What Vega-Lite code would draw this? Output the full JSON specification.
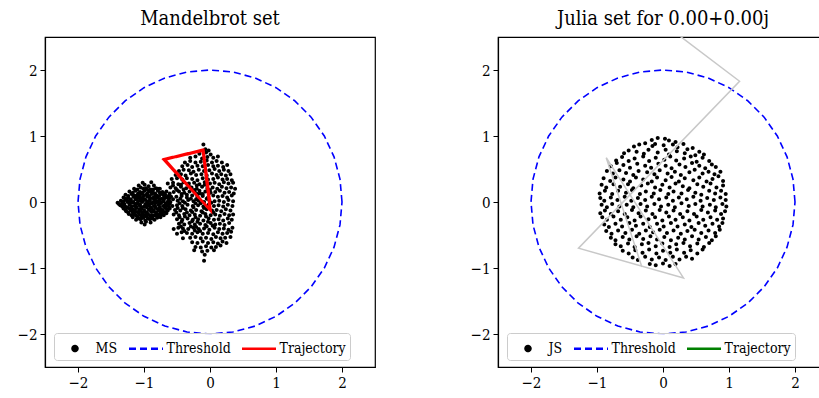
{
  "$schema": "https://vega.github.io/schema/vega-lite/v6.json",
  "padding": {"left": 5, "top": 8, "right": 0, "bottom": 0},
  "background": "white",
  "config": {
    "font": "DejaVu Serif Condensed, DejaVu Serif",
    "view": {"stroke": "black", "strokeWidth": 1.2},
    "axis": {"grid": false, "domainColor": "black", "domainWidth": 1.2, "tickColor": "black", "tickWidth": 1, "labelColor": "black", "labelFontSize": 15, "labelFont": "DejaVu Serif Condensed, DejaVu Serif", "tickSize": 5, "labelPadding": 3},
    "axisY": {"minExtent": 39, "maxExtent": 39},
    "title": {"fontSize": 20, "font": "DejaVu Serif Condensed, DejaVu Serif", "fontWeight": "normal", "color": "black", "offset": 8},
    "legend": {"orient": "none", "legendX": 9, "legendY": 296, "direction": "horizontal", "labelFont": "DejaVu Serif Condensed, DejaVu Serif", "labelFontSize": 14, "labelColor": "black", "symbolSize": 400, "symbolStrokeWidth": 2.5, "symbolOffset": 5.5, "labelOffset": 9, "columnPadding": 6, "padding": 4, "fillColor": "rgba(255,255,255,0.8)", "strokeColor": "#cccccc", "cornerRadius": 3},
    "concat": {"spacing": 82}
  },
  "datasets": {
    "ms": [
      {"x":-1.02,"y":0.29},{"x":-0.89,"y":0.30},
      {"x":-1.08,"y":0.25},{"x":-0.99,"y":0.26},{"x":-0.93,"y":0.24},{"x":-0.85,"y":0.25},
      {"x":-1.15,"y":0.20},{"x":-1.05,"y":0.22},{"x":-0.97,"y":0.21},{"x":-0.90,"y":0.19},{"x":-0.82,"y":0.21},{"x":-0.76,"y":0.20},
      {"x":-1.22,"y":0.16},{"x":-1.13,"y":0.17},{"x":-1.06,"y":0.15},{"x":-0.99,"y":0.17},{"x":-0.92,"y":0.16},{"x":-0.86,"y":0.14},{"x":-0.79,"y":0.17},{"x":-0.72,"y":0.15},{"x":-0.66,"y":0.16},
      {"x":-1.28,"y":0.11},{"x":-1.19,"y":0.12},{"x":-1.11,"y":0.10},{"x":-1.04,"y":0.12},{"x":-0.96,"y":0.11},{"x":-0.88,"y":0.12},{"x":-0.81,"y":0.10},{"x":-0.74,"y":0.12},{"x":-0.68,"y":0.11},{"x":-0.61,"y":0.13},
      {"x":-1.31,"y":0.07},{"x":-1.24,"y":0.06},{"x":-1.16,"y":0.08},{"x":-1.09,"y":0.06},{"x":-1.02,"y":0.07},{"x":-0.95,"y":0.08},{"x":-0.87,"y":0.06},{"x":-0.80,"y":0.07},{"x":-0.73,"y":0.05},{"x":-0.66,"y":0.07},{"x":-0.59,"y":0.08},
      {"x":-1.35,"y":0.02},{"x":-1.27,"y":0.03},{"x":-1.20,"y":0.02},{"x":-1.13,"y":0.04},{"x":-1.06,"y":0.02},{"x":-0.98,"y":0.03},{"x":-0.91,"y":0.02},{"x":-0.84,"y":0.04},{"x":-0.77,"y":0.02},{"x":-0.70,"y":0.03},{"x":-0.63,"y":0.02},{"x":-0.56,"y":0.04},
      {"x":-1.40,"y":-0.01},{"x":-1.33,"y":-0.02},{"x":-1.25,"y":0.00},{"x":-1.17,"y":-0.01},{"x":-1.10,"y":-0.02},{"x":-1.03,"y":0.00},{"x":-0.95,"y":-0.01},{"x":-0.88,"y":-0.02},{"x":-0.81,"y":0.00},{"x":-0.74,"y":-0.01},{"x":-0.67,"y":-0.02},{"x":-0.60,"y":0.00},
      {"x":-1.36,"y":-0.05},{"x":-1.29,"y":-0.06},{"x":-1.22,"y":-0.04},{"x":-1.14,"y":-0.06},{"x":-1.07,"y":-0.05},{"x":-1.00,"y":-0.07},{"x":-0.93,"y":-0.05},{"x":-0.85,"y":-0.06},{"x":-0.78,"y":-0.04},{"x":-0.71,"y":-0.06},{"x":-0.64,"y":-0.05},{"x":-0.57,"y":-0.06},
      {"x":-1.31,"y":-0.10},{"x":-1.24,"y":-0.09},{"x":-1.17,"y":-0.11},{"x":-1.11,"y":-0.09},{"x":-1.04,"y":-0.10},{"x":-0.96,"y":-0.08},{"x":-0.89,"y":-0.10},{"x":-0.82,"y":-0.09},{"x":-0.75,"y":-0.11},{"x":-0.68,"y":-0.09},{"x":-0.61,"y":-0.10},
      {"x":-1.27,"y":-0.14},{"x":-1.20,"y":-0.13},{"x":-1.13,"y":-0.15},{"x":-1.06,"y":-0.13},{"x":-0.99,"y":-0.14},{"x":-0.92,"y":-0.12},{"x":-0.85,"y":-0.14},{"x":-0.78,"y":-0.13},{"x":-0.71,"y":-0.15},{"x":-0.64,"y":-0.13},
      {"x":-1.23,"y":-0.18},{"x":-1.15,"y":-0.19},{"x":-1.08,"y":-0.17},{"x":-1.01,"y":-0.19},{"x":-0.94,"y":-0.18},{"x":-0.87,"y":-0.20},{"x":-0.80,"y":-0.18},{"x":-0.73,"y":-0.19},{"x":-0.66,"y":-0.17},
      {"x":-1.17,"y":-0.23},{"x":-1.10,"y":-0.22},{"x":-1.03,"y":-0.24},{"x":-0.96,"y":-0.22},{"x":-0.89,"y":-0.23},{"x":-0.82,"y":-0.21},{"x":-0.75,"y":-0.23},
      {"x":-1.12,"y":-0.27},{"x":-1.05,"y":-0.26},{"x":-0.98,"y":-0.28},{"x":-0.91,"y":-0.26},{"x":-0.84,"y":-0.27},
      {"x":-1.04,"y":-0.31},{"x":-0.97,"y":-0.30},{"x":-0.90,"y":-0.31},{"x":-0.99,"y":-0.34},
      {"x":-1.10,"y":0.19},{"x":-1.01,"y":0.20},{"x":-0.94,"y":0.18},{"x":-0.86,"y":0.19},{"x":-0.79,"y":0.20},
      {"x":-1.17,"y":0.14},{"x":-1.09,"y":0.13},{"x":-1.02,"y":0.14},{"x":-0.95,"y":0.13},{"x":-0.89,"y":0.15},{"x":-0.83,"y":0.13},{"x":-0.76,"y":0.14},{"x":-0.69,"y":0.13},
      {"x":-1.24,"y":0.09},{"x":-1.15,"y":0.10},{"x":-1.07,"y":0.09},{"x":-1.00,"y":0.10},{"x":-0.92,"y":0.09},{"x":-0.84,"y":0.08},{"x":-0.77,"y":0.09},{"x":-0.70,"y":0.10},{"x":-0.63,"y":0.09},
      {"x":-1.28,"y":0.05},{"x":-1.20,"y":0.04},{"x":-1.12,"y":0.05},{"x":-1.05,"y":0.05},{"x":-0.99,"y":0.04},{"x":-0.91,"y":0.05},{"x":-0.83,"y":0.05},{"x":-0.76,"y":0.04},{"x":-0.69,"y":0.06},{"x":-0.62,"y":0.05},
      {"x":-1.31,"y":0.01},{"x":-1.23,"y":0.01},{"x":-1.16,"y":0.00},{"x":-1.09,"y":0.01},{"x":-1.02,"y":0.02},{"x":-0.94,"y":0.01},{"x":-0.86,"y":0.00},{"x":-0.79,"y":0.01},{"x":-0.71,"y":0.01},{"x":-0.64,"y":0.00},
      {"x":-1.38,"y":-0.03},{"x":-1.30,"y":-0.03},{"x":-1.21,"y":-0.02},{"x":-1.13,"y":-0.03},{"x":-1.06,"y":-0.04},{"x":-0.98,"y":-0.03},{"x":-0.91,"y":-0.03},{"x":-0.83,"y":-0.02},{"x":-0.76,"y":-0.03},{"x":-0.68,"y":-0.04},{"x":-0.61,"y":-0.03},
      {"x":-1.33,"y":-0.07},{"x":-1.26,"y":-0.08},{"x":-1.19,"y":-0.07},{"x":-1.12,"y":-0.07},{"x":-1.04,"y":-0.08},{"x":-0.97,"y":-0.06},{"x":-0.90,"y":-0.08},{"x":-0.83,"y":-0.07},{"x":-0.76,"y":-0.08},{"x":-0.68,"y":-0.07},{"x":-0.62,"y":-0.08},
      {"x":-1.28,"y":-0.12},{"x":-1.21,"y":-0.11},{"x":-1.14,"y":-0.12},{"x":-1.07,"y":-0.11},{"x":-1.00,"y":-0.12},{"x":-0.93,"y":-0.11},{"x":-0.86,"y":-0.12},{"x":-0.79,"y":-0.11},{"x":-0.72,"y":-0.12},{"x":-0.65,"y":-0.11},
      {"x":-1.24,"y":-0.16},{"x":-1.17,"y":-0.16},{"x":-1.10,"y":-0.15},{"x":-1.03,"y":-0.16},{"x":-0.96,"y":-0.16},{"x":-0.89,"y":-0.15},{"x":-0.82,"y":-0.16},{"x":-0.75,"y":-0.16},{"x":-0.68,"y":-0.15},
      {"x":-1.19,"y":-0.20},{"x":-1.12,"y":-0.21},{"x":-1.05,"y":-0.20},{"x":-0.98,"y":-0.20},{"x":-0.91,"y":-0.21},{"x":-0.84,"y":-0.20},{"x":-0.77,"y":-0.21},{"x":-0.70,"y":-0.20},
      {"x":-1.08,"y":-0.25},{"x":-1.01,"y":-0.24},{"x":-0.94,"y":-0.25},{"x":-0.87,"y":-0.25},{"x":-0.80,"y":-0.24},
      {"x":-0.10,"y":0.87},
      {"x":-0.07,"y":0.80},{"x":-0.02,"y":0.78},
      {"x":-0.16,"y":0.73},{"x":-0.06,"y":0.75},{"x":0.01,"y":0.72},
      {"x":-0.30,"y":0.67},{"x":-0.22,"y":0.69},{"x":-0.12,"y":0.66},{"x":-0.04,"y":0.68},{"x":0.05,"y":0.67},{"x":0.12,"y":0.69},
      {"x":-0.38,"y":0.60},{"x":-0.30,"y":0.62},{"x":-0.22,"y":0.60},{"x":-0.14,"y":0.61},{"x":-0.05,"y":0.63},{"x":0.03,"y":0.60},{"x":0.10,"y":0.62},{"x":0.18,"y":0.60},
      {"x":-0.42,"y":0.54},{"x":-0.34,"y":0.56},{"x":-0.27,"y":0.53},{"x":-0.19,"y":0.55},{"x":-0.11,"y":0.54},{"x":-0.03,"y":0.56},{"x":0.05,"y":0.54},{"x":0.12,"y":0.55},{"x":0.20,"y":0.53},{"x":0.26,"y":0.56},
      {"x":-0.47,"y":0.47},{"x":-0.40,"y":0.49},{"x":-0.32,"y":0.48},{"x":-0.25,"y":0.46},{"x":-0.17,"y":0.49},{"x":-0.09,"y":0.47},{"x":-0.01,"y":0.48},{"x":0.07,"y":0.50},{"x":0.14,"y":0.47},{"x":0.21,"y":0.49},{"x":0.28,"y":0.47},
      {"x":-0.52,"y":0.41},{"x":-0.44,"y":0.42},{"x":-0.37,"y":0.40},{"x":-0.29,"y":0.43},{"x":-0.21,"y":0.41},{"x":-0.13,"y":0.42},{"x":-0.05,"y":0.40},{"x":0.03,"y":0.43},{"x":0.10,"y":0.41},{"x":0.17,"y":0.42},{"x":0.24,"y":0.40},{"x":0.31,"y":0.42},
      {"x":-0.58,"y":0.35},{"x":-0.50,"y":0.36},{"x":-0.42,"y":0.34},{"x":-0.35,"y":0.36},{"x":-0.27,"y":0.35},{"x":-0.19,"y":0.33},{"x":-0.11,"y":0.36},{"x":-0.03,"y":0.34},{"x":0.05,"y":0.35},{"x":0.12,"y":0.37},{"x":0.19,"y":0.34},{"x":0.26,"y":0.35},{"x":0.33,"y":0.33},
      {"x":-0.64,"y":0.28},{"x":-0.56,"y":0.29},{"x":-0.48,"y":0.27},{"x":-0.40,"y":0.30},{"x":-0.32,"y":0.28},{"x":-0.24,"y":0.29},{"x":-0.16,"y":0.27},{"x":-0.08,"y":0.30},{"x":0.00,"y":0.28},{"x":0.07,"y":0.29},{"x":0.14,"y":0.27},{"x":0.21,"y":0.30},{"x":0.28,"y":0.28},{"x":0.35,"y":0.29},
      {"x":-0.60,"y":0.22},{"x":-0.52,"y":0.21},{"x":-0.44,"y":0.23},{"x":-0.36,"y":0.21},{"x":-0.28,"y":0.22},{"x":-0.20,"y":0.20},{"x":-0.12,"y":0.23},{"x":-0.04,"y":0.21},{"x":0.04,"y":0.22},{"x":0.11,"y":0.20},{"x":0.18,"y":0.23},{"x":0.25,"y":0.21},{"x":0.32,"y":0.22},{"x":0.38,"y":0.20},
      {"x":-0.55,"y":0.15},{"x":-0.47,"y":0.16},{"x":-0.39,"y":0.14},{"x":-0.31,"y":0.16},{"x":-0.23,"y":0.15},{"x":-0.15,"y":0.13},{"x":-0.07,"y":0.16},{"x":0.01,"y":0.14},{"x":0.08,"y":0.15},{"x":0.15,"y":0.17},{"x":0.22,"y":0.14},{"x":0.29,"y":0.15},{"x":0.36,"y":0.13},
      {"x":-0.51,"y":0.08},{"x":-0.43,"y":0.09},{"x":-0.35,"y":0.07},{"x":-0.27,"y":0.10},{"x":-0.19,"y":0.08},{"x":-0.11,"y":0.09},{"x":-0.03,"y":0.07},{"x":0.05,"y":0.10},{"x":0.12,"y":0.08},{"x":0.19,"y":0.09},{"x":0.26,"y":0.07},{"x":0.33,"y":0.10},
      {"x":-0.49,"y":0.02},{"x":-0.41,"y":0.01},{"x":-0.33,"y":0.03},{"x":-0.25,"y":0.01},{"x":-0.17,"y":0.02},{"x":-0.09,"y":0.00},{"x":-0.01,"y":0.03},{"x":0.07,"y":0.01},{"x":0.14,"y":0.02},{"x":0.21,"y":0.00},{"x":0.28,"y":0.03},{"x":0.35,"y":0.01},
      {"x":-0.50,"y":-0.05},{"x":-0.42,"y":-0.06},{"x":-0.34,"y":-0.04},{"x":-0.26,"y":-0.06},{"x":-0.18,"y":-0.05},{"x":-0.10,"y":-0.07},{"x":-0.02,"y":-0.04},{"x":0.06,"y":-0.06},{"x":0.13,"y":-0.05},{"x":0.20,"y":-0.07},{"x":0.27,"y":-0.04},{"x":0.34,"y":-0.06},
      {"x":-0.53,"y":-0.12},{"x":-0.45,"y":-0.13},{"x":-0.37,"y":-0.11},{"x":-0.29,"y":-0.13},{"x":-0.21,"y":-0.12},{"x":-0.13,"y":-0.14},{"x":-0.05,"y":-0.11},{"x":0.03,"y":-0.13},{"x":0.10,"y":-0.12},{"x":0.17,"y":-0.14},{"x":0.24,"y":-0.11},{"x":0.31,"y":-0.13},
      {"x":-0.55,"y":-0.19},{"x":-0.47,"y":-0.20},{"x":-0.39,"y":-0.18},{"x":-0.31,"y":-0.20},{"x":-0.23,"y":-0.19},{"x":-0.15,"y":-0.21},{"x":-0.07,"y":-0.18},{"x":0.01,"y":-0.20},{"x":0.08,"y":-0.19},{"x":0.15,"y":-0.21},{"x":0.22,"y":-0.18},{"x":0.29,"y":-0.20},{"x":0.35,"y":-0.19},
      {"x":-0.50,"y":-0.26},{"x":-0.42,"y":-0.27},{"x":-0.34,"y":-0.25},{"x":-0.26,"y":-0.27},{"x":-0.18,"y":-0.26},{"x":-0.10,"y":-0.28},{"x":-0.02,"y":-0.25},{"x":0.06,"y":-0.27},{"x":0.13,"y":-0.26},{"x":0.20,"y":-0.28},{"x":0.27,"y":-0.25},{"x":0.33,"y":-0.27},
      {"x":-0.47,"y":-0.33},{"x":-0.39,"y":-0.34},{"x":-0.31,"y":-0.32},{"x":-0.23,"y":-0.34},{"x":-0.15,"y":-0.33},{"x":-0.07,"y":-0.35},{"x":0.01,"y":-0.32},{"x":0.08,"y":-0.34},{"x":0.15,"y":-0.33},{"x":0.22,"y":-0.35},{"x":0.29,"y":-0.32},
      {"x":-0.55,"y":-0.41},{"x":-0.48,"y":-0.39},{"x":-0.41,"y":-0.40},{"x":-0.33,"y":-0.41},{"x":-0.25,"y":-0.39},{"x":-0.17,"y":-0.41},{"x":-0.09,"y":-0.40},{"x":-0.01,"y":-0.42},{"x":0.07,"y":-0.39},{"x":0.14,"y":-0.41},{"x":0.21,"y":-0.40},{"x":0.28,"y":-0.42},{"x":0.34,"y":-0.39},
      {"x":-0.50,"y":-0.48},{"x":-0.43,"y":-0.46},{"x":-0.35,"y":-0.47},{"x":-0.27,"y":-0.48},{"x":-0.19,"y":-0.46},{"x":-0.11,"y":-0.48},{"x":-0.03,"y":-0.47},{"x":0.05,"y":-0.49},{"x":0.12,"y":-0.46},{"x":0.19,"y":-0.48},{"x":0.26,"y":-0.47},{"x":0.32,"y":-0.45},
      {"x":-0.41,"y":-0.55},{"x":-0.30,"y":-0.54},{"x":-0.22,"y":-0.53},{"x":-0.14,"y":-0.55},{"x":-0.06,"y":-0.54},{"x":0.02,"y":-0.56},{"x":0.09,"y":-0.53},{"x":0.16,"y":-0.55},{"x":0.23,"y":-0.54},{"x":0.31,"y":-0.53},
      {"x":-0.27,"y":-0.61},{"x":-0.19,"y":-0.62},{"x":-0.11,"y":-0.60},{"x":-0.03,"y":-0.62},{"x":0.05,"y":-0.61},{"x":0.12,"y":-0.63},{"x":0.19,"y":-0.60},{"x":0.25,"y":-0.62},
      {"x":-0.22,"y":-0.68},{"x":-0.14,"y":-0.69},{"x":-0.06,"y":-0.67},{"x":0.02,"y":-0.69},{"x":0.09,"y":-0.68},{"x":0.16,"y":-0.66},
      {"x":-0.24,"y":-0.73},{"x":-0.12,"y":-0.75},{"x":-0.04,"y":-0.74},{"x":0.06,"y":-0.73},
      {"x":-0.08,"y":-0.80},{"x":-0.09,"y":-0.89},
      {"x":-0.56,"y":0.25},{"x":-0.44,"y":0.26},{"x":-0.32,"y":0.24},{"x":-0.20,"y":0.25},{"x":-0.08,"y":0.26},
      {"x":-0.50,"y":0.18},{"x":-0.40,"y":0.19},{"x":-0.24,"y":0.18},{"x":-0.16,"y":0.17},{"x":0.00,"y":0.18},
      {"x":-0.43,"y":0.12},{"x":-0.35,"y":0.11},{"x":-0.19,"y":0.12},{"x":-0.11,"y":0.12},
      {"x":-0.45,"y":0.05},{"x":-0.29,"y":0.05},{"x":-0.21,"y":0.04},{"x":-0.05,"y":0.05},
      {"x":-0.46,"y":-0.02},{"x":-0.38,"y":-0.01},{"x":-0.22,"y":-0.02},{"x":-0.14,"y":-0.02},{"x":0.02,"y":-0.01},
      {"x":-0.49,"y":-0.09},{"x":-0.41,"y":-0.09},{"x":-0.25,"y":-0.08},{"x":-0.09,"y":-0.09},
      {"x":-0.51,"y":-0.16},{"x":-0.35,"y":-0.16},{"x":-0.27,"y":-0.15},{"x":-0.11,"y":-0.16},{"x":0.05,"y":-0.16},
      {"x":-0.46,"y":-0.23},{"x":-0.38,"y":-0.22},{"x":-0.22,"y":-0.23},{"x":-0.06,"y":-0.22},
      {"x":-0.43,"y":-0.30},{"x":-0.27,"y":-0.29},{"x":-0.19,"y":-0.30},{"x":-0.03,"y":-0.30},
      {"x":-0.44,"y":-0.37},{"x":-0.29,"y":-0.37},{"x":-0.21,"y":-0.38},{"x":-0.05,"y":-0.37},{"x":0.04,"y":-0.36},
      {"x":-0.39,"y":-0.44},{"x":-0.23,"y":-0.43},{"x":-0.15,"y":-0.44}
    ],
    "js": [
      {"x":-0.17,"y":0.94},{"x":-0.08,"y":0.97},{"x":0.03,"y":0.96},{"x":0.09,"y":0.93},{"x":0.19,"y":0.91},
      {"x":-0.44,"y":0.84},{"x":-0.36,"y":0.87},{"x":-0.27,"y":0.89},{"x":-0.16,"y":0.85},{"x":-0.12,"y":0.88},{"x":0.01,"y":0.86},{"x":0.15,"y":0.87},{"x":0.22,"y":0.83},{"x":0.31,"y":0.88},{"x":0.45,"y":0.82},
      {"x":-0.59,"y":0.74},{"x":-0.52,"y":0.78},{"x":-0.40,"y":0.76},{"x":-0.29,"y":0.73},{"x":-0.22,"y":0.79},{"x":-0.08,"y":0.75},{"x":0.04,"y":0.79},{"x":0.09,"y":0.72},{"x":0.21,"y":0.77},{"x":0.33,"y":0.74},{"x":0.37,"y":0.80},{"x":0.49,"y":0.71},{"x":0.55,"y":0.76},{"x":0.62,"y":0.72},
      {"x":-0.71,"y":0.63},{"x":-0.62,"y":0.68},{"x":-0.52,"y":0.62},{"x":-0.43,"y":0.66},{"x":-0.30,"y":0.69},{"x":-0.21,"y":0.62},{"x":-0.11,"y":0.67},{"x":0.02,"y":0.64},{"x":0.11,"y":0.69},{"x":0.20,"y":0.63},{"x":0.32,"y":0.66},{"x":0.42,"y":0.69},{"x":0.51,"y":0.61},{"x":0.60,"y":0.67},{"x":0.70,"y":0.62},
      {"x":-0.79,"y":0.54},{"x":-0.70,"y":0.59},{"x":-0.60,"y":0.56},{"x":-0.50,"y":0.52},{"x":-0.39,"y":0.58},{"x":-0.27,"y":0.55},{"x":-0.18,"y":0.52},{"x":-0.07,"y":0.58},{"x":0.04,"y":0.55},{"x":0.13,"y":0.51},{"x":0.25,"y":0.57},{"x":0.34,"y":0.53},{"x":0.44,"y":0.59},{"x":0.55,"y":0.55},{"x":0.64,"y":0.51},{"x":0.74,"y":0.57},{"x":0.80,"y":0.53},
      {"x":-0.85,"y":0.47},{"x":-0.76,"y":0.43},{"x":-0.66,"y":0.48},{"x":-0.56,"y":0.44},{"x":-0.45,"y":0.41},{"x":-0.37,"y":0.47},{"x":-0.24,"y":0.45},{"x":-0.13,"y":0.42},{"x":-0.05,"y":0.48},{"x":0.07,"y":0.43},{"x":0.18,"y":0.46},{"x":0.27,"y":0.41},{"x":0.40,"y":0.45},{"x":0.48,"y":0.49},{"x":0.60,"y":0.43},{"x":0.69,"y":0.46},{"x":0.78,"y":0.42},{"x":0.87,"y":0.46},
      {"x":-0.90,"y":0.36},{"x":-0.80,"y":0.32},{"x":-0.72,"y":0.37},{"x":-0.60,"y":0.34},{"x":-0.50,"y":0.31},{"x":-0.41,"y":0.37},{"x":-0.30,"y":0.34},{"x":-0.17,"y":0.31},{"x":-0.09,"y":0.37},{"x":0.04,"y":0.33},{"x":0.13,"y":0.38},{"x":0.24,"y":0.31},{"x":0.33,"y":0.36},{"x":0.46,"y":0.33},{"x":0.55,"y":0.37},{"x":0.66,"y":0.31},{"x":0.75,"y":0.35},{"x":0.84,"y":0.39},{"x":0.91,"y":0.32},
      {"x":-0.93,"y":0.26},{"x":-0.86,"y":0.22},{"x":-0.75,"y":0.27},{"x":-0.65,"y":0.23},{"x":-0.53,"y":0.27},{"x":-0.45,"y":0.21},{"x":-0.33,"y":0.25},{"x":-0.23,"y":0.28},{"x":-0.12,"y":0.22},{"x":-0.01,"y":0.26},{"x":0.10,"y":0.22},{"x":0.19,"y":0.28},{"x":0.30,"y":0.24},{"x":0.40,"y":0.21},{"x":0.52,"y":0.27},{"x":0.61,"y":0.23},{"x":0.72,"y":0.28},{"x":0.81,"y":0.22},{"x":0.91,"y":0.25},
      {"x":-0.96,"y":0.13},{"x":-0.88,"y":0.17},{"x":-0.77,"y":0.12},{"x":-0.68,"y":0.17},{"x":-0.56,"y":0.14},{"x":-0.47,"y":0.18},{"x":-0.35,"y":0.12},{"x":-0.26,"y":0.16},{"x":-0.14,"y":0.13},{"x":-0.04,"y":0.18},{"x":0.08,"y":0.12},{"x":0.16,"y":0.16},{"x":0.28,"y":0.13},{"x":0.38,"y":0.18},{"x":0.49,"y":0.14},{"x":0.58,"y":0.11},{"x":0.70,"y":0.17},{"x":0.79,"y":0.13},{"x":0.88,"y":0.17},{"x":0.95,"y":0.12},
      {"x":-0.95,"y":0.06},{"x":-0.89,"y":0.02},{"x":-0.79,"y":0.07},{"x":-0.69,"y":0.03},{"x":-0.58,"y":0.08},{"x":-0.48,"y":0.02},{"x":-0.38,"y":0.06},{"x":-0.27,"y":0.03},{"x":-0.17,"y":0.08},{"x":-0.06,"y":0.04},{"x":0.05,"y":0.07},{"x":0.15,"y":0.02},{"x":0.24,"y":0.07},{"x":0.36,"y":0.04},{"x":0.46,"y":0.08},{"x":0.57,"y":0.02},{"x":0.67,"y":0.06},{"x":0.77,"y":0.03},{"x":0.87,"y":0.07},{"x":0.95,"y":0.03},
      {"x":-0.93,"y":-0.04},{"x":-0.85,"y":-0.08},{"x":-0.77,"y":-0.03},{"x":-0.66,"y":-0.07},{"x":-0.55,"y":-0.04},{"x":-0.45,"y":-0.08},{"x":-0.34,"y":-0.03},{"x":-0.24,"y":-0.07},{"x":-0.13,"y":-0.03},{"x":-0.03,"y":-0.07},{"x":0.08,"y":-0.04},{"x":0.18,"y":-0.08},{"x":0.28,"y":-0.02},{"x":0.39,"y":-0.06},{"x":0.49,"y":-0.03},{"x":0.60,"y":-0.07},{"x":0.71,"y":-0.04},{"x":0.80,"y":-0.08},{"x":0.90,"y":-0.03},{"x":0.96,"y":-0.07},
      {"x":-0.95,"y":-0.17},{"x":-0.88,"y":-0.13},{"x":-0.79,"y":-0.18},{"x":-0.68,"y":-0.14},{"x":-0.58,"y":-0.18},{"x":-0.47,"y":-0.12},{"x":-0.37,"y":-0.17},{"x":-0.26,"y":-0.13},{"x":-0.16,"y":-0.18},{"x":-0.05,"y":-0.12},{"x":0.05,"y":-0.16},{"x":0.16,"y":-0.13},{"x":0.26,"y":-0.18},{"x":0.37,"y":-0.14},{"x":0.47,"y":-0.18},{"x":0.58,"y":-0.12},{"x":0.68,"y":-0.16},{"x":0.79,"y":-0.13},{"x":0.88,"y":-0.18},{"x":0.94,"y":-0.14},
      {"x":-0.92,"y":-0.23},{"x":-0.85,"y":-0.27},{"x":-0.75,"y":-0.22},{"x":-0.64,"y":-0.27},{"x":-0.54,"y":-0.23},{"x":-0.43,"y":-0.28},{"x":-0.34,"y":-0.22},{"x":-0.22,"y":-0.26},{"x":-0.12,"y":-0.23},{"x":-0.01,"y":-0.28},{"x":0.09,"y":-0.22},{"x":0.19,"y":-0.27},{"x":0.30,"y":-0.23},{"x":0.40,"y":-0.28},{"x":0.51,"y":-0.22},{"x":0.61,"y":-0.27},{"x":0.72,"y":-0.23},{"x":0.82,"y":-0.27},{"x":0.91,"y":-0.25},
      {"x":-0.89,"y":-0.34},{"x":-0.82,"y":-0.38},{"x":-0.72,"y":-0.33},{"x":-0.62,"y":-0.37},{"x":-0.51,"y":-0.32},{"x":-0.41,"y":-0.36},{"x":-0.30,"y":-0.33},{"x":-0.20,"y":-0.38},{"x":-0.09,"y":-0.33},{"x":0.01,"y":-0.37},{"x":0.12,"y":-0.32},{"x":0.22,"y":-0.37},{"x":0.33,"y":-0.34},{"x":0.43,"y":-0.38},{"x":0.54,"y":-0.32},{"x":0.64,"y":-0.36},{"x":0.75,"y":-0.33},{"x":0.85,"y":-0.37},{"x":0.90,"y":-0.32},
      {"x":-0.86,"y":-0.44},{"x":-0.78,"y":-0.48},{"x":-0.68,"y":-0.43},{"x":-0.57,"y":-0.47},{"x":-0.47,"y":-0.42},{"x":-0.36,"y":-0.48},{"x":-0.26,"y":-0.43},{"x":-0.15,"y":-0.46},{"x":-0.05,"y":-0.42},{"x":0.06,"y":-0.47},{"x":0.16,"y":-0.43},{"x":0.27,"y":-0.48},{"x":0.37,"y":-0.44},{"x":0.48,"y":-0.42},{"x":0.58,"y":-0.47},{"x":0.69,"y":-0.43},{"x":0.79,"y":-0.47},{"x":0.86,"y":-0.42},
      {"x":-0.79,"y":-0.54},{"x":-0.72,"y":-0.58},{"x":-0.61,"y":-0.53},{"x":-0.51,"y":-0.57},{"x":-0.40,"y":-0.52},{"x":-0.30,"y":-0.56},{"x":-0.19,"y":-0.52},{"x":-0.09,"y":-0.57},{"x":0.02,"y":-0.53},{"x":0.12,"y":-0.58},{"x":0.23,"y":-0.54},{"x":0.33,"y":-0.57},{"x":0.44,"y":-0.52},{"x":0.54,"y":-0.57},{"x":0.65,"y":-0.53},{"x":0.74,"y":-0.58},{"x":0.80,"y":-0.52},
      {"x":-0.72,"y":-0.64},{"x":-0.64,"y":-0.67},{"x":-0.53,"y":-0.63},{"x":-0.43,"y":-0.68},{"x":-0.32,"y":-0.64},{"x":-0.22,"y":-0.62},{"x":-0.11,"y":-0.67},{"x":-0.01,"y":-0.63},{"x":0.10,"y":-0.68},{"x":0.20,"y":-0.64},{"x":0.31,"y":-0.62},{"x":0.41,"y":-0.67},{"x":0.52,"y":-0.63},{"x":0.62,"y":-0.68},{"x":0.70,"y":-0.62},
      {"x":-0.61,"y":-0.74},{"x":-0.52,"y":-0.78},{"x":-0.42,"y":-0.73},{"x":-0.31,"y":-0.77},{"x":-0.21,"y":-0.72},{"x":-0.10,"y":-0.78},{"x":0.00,"y":-0.74},{"x":0.11,"y":-0.77},{"x":0.21,"y":-0.72},{"x":0.32,"y":-0.77},{"x":0.42,"y":-0.73},{"x":0.52,"y":-0.78},{"x":0.60,"y":-0.72},
      {"x":-0.46,"y":-0.84},{"x":-0.38,"y":-0.88},{"x":-0.27,"y":-0.83},{"x":-0.17,"y":-0.87},{"x":-0.06,"y":-0.84},{"x":0.04,"y":-0.88},{"x":0.15,"y":-0.83},{"x":0.25,"y":-0.87},{"x":0.35,"y":-0.83},{"x":0.44,"y":-0.86},
      {"x":-0.20,"y":-0.94},{"x":-0.11,"y":-0.96},{"x":0.00,"y":-0.93},{"x":0.10,"y":-0.97},{"x":0.19,"y":-0.94}
    ],
    "circle": [
      {"i":0,"x":2.0,"y":0.0},{"i":1,"x":1.9696,"y":0.3473},{"i":2,"x":1.8794,"y":0.684},{"i":3,"x":1.7321,"y":1.0},{"i":4,"x":1.5321,"y":1.2856},{"i":5,"x":1.2856,"y":1.5321},{"i":6,"x":1.0,"y":1.7321},{"i":7,"x":0.684,"y":1.8794},{"i":8,"x":0.3473,"y":1.9696},{"i":9,"x":0.0,"y":2.0},
      {"i":10,"x":-0.3473,"y":1.9696},{"i":11,"x":-0.684,"y":1.8794},{"i":12,"x":-1.0,"y":1.7321},{"i":13,"x":-1.2856,"y":1.5321},{"i":14,"x":-1.5321,"y":1.2856},{"i":15,"x":-1.7321,"y":1.0},{"i":16,"x":-1.8794,"y":0.684},{"i":17,"x":-1.9696,"y":0.3473},{"i":18,"x":-2.0,"y":0.0},
      {"i":19,"x":-1.9696,"y":-0.3473},{"i":20,"x":-1.8794,"y":-0.684},{"i":21,"x":-1.7321,"y":-1.0},{"i":22,"x":-1.5321,"y":-1.2856},{"i":23,"x":-1.2856,"y":-1.5321},{"i":24,"x":-1.0,"y":-1.7321},{"i":25,"x":-0.684,"y":-1.8794},{"i":26,"x":-0.3473,"y":-1.9696},{"i":27,"x":0.0,"y":-2.0},
      {"i":28,"x":0.3473,"y":-1.9696},{"i":29,"x":0.684,"y":-1.8794},{"i":30,"x":1.0,"y":-1.7321},{"i":31,"x":1.2856,"y":-1.5321},{"i":32,"x":1.5321,"y":-1.2856},{"i":33,"x":1.7321,"y":-1.0},{"i":34,"x":1.8794,"y":-0.684},{"i":35,"x":1.9696,"y":-0.3473},{"i":36,"x":2.0,"y":0.0}
    ],
    "trajL": [
      {"i":0,"x":0.0,"y":0.0},{"i":1,"x":-0.10,"y":0.79},{"i":2,"x":-0.69,"y":0.64},{"i":3,"x":0.00,"y":-0.12},
      {"i":4,"x":-0.11,"y":0.79},{"i":5,"x":-0.69,"y":0.65},{"i":6,"x":0.01,"y":-0.13},
      {"i":7,"x":-0.10,"y":0.78},{"i":8,"x":-0.70,"y":0.64},{"i":9,"x":0.00,"y":-0.12}
    ],
    "trajR": [
      {"i":0,"x":-0.32,"y":-0.985},{"i":1,"x":-0.86,"y":0.67},{"i":2,"x":0.31,"y":-1.15},{"i":3,"x":-1.28,"y":-0.70},{"i":4,"x":1.16,"y":1.83},{"i":5,"x":-2.01,"y":4.23}
    ]
  },
  "hconcat": [
    {
      "title": "Mandelbrot set",
      "width": 330,
      "height": 330,
      "encoding": {
        "x": {"field": "x", "type": "quantitative", "scale": {"domain": [-2.5, 2.5], "nice": false, "zero": false}, "axis": {"values": [-2, -1, 0, 1, 2], "title": null}},
        "y": {"field": "y", "type": "quantitative", "scale": {"domain": [-2.5, 2.5], "nice": false, "zero": false}, "axis": {"values": [-2, -1, 0, 1, 2], "title": null}}
      },
      "layer": [
        {
          "data": {"name": "ms"},
          "mark": {"type": "point", "filled": true, "size": 256, "opacity": 1},
          "encoding": {
            "color": {"datum": "MS", "scale": {"domain": ["MS", "Threshold", "Trajectory"], "range": ["black", "blue", "red"]}, "legend": {"title": null}},
            "shape": {"datum": "MS", "scale": {"domain": ["MS", "Threshold", "Trajectory"], "range": ["M-0.25,0A0.25,0.25,0,1,1,0.25,0A0.25,0.25,0,1,1,-0.25,0Z", "M-1.7,0L1.7,0", "M-1.7,0L1.7,0"]}, "legend": {"title": null}}
          }
        },
        {
          "data": {"name": "circle"},
          "mark": {"type": "line", "strokeWidth": 1.6},
          "encoding": {
            "order": {"field": "i", "type": "quantitative"},
            "color": {"datum": "Threshold", "legend": {"title": null}},
            "strokeDash": {"datum": "Threshold", "scale": {"domain": ["MS", "Threshold", "Trajectory"], "range": [[1, 0], [7, 4], [1, 0]]}, "legend": {"title": null}}
          }
        },
        {
          "data": {"name": "trajL"},
          "mark": {"type": "line", "strokeWidth": 2.6, "clip": true},
          "encoding": {
            "order": {"field": "i", "type": "quantitative"},
            "color": {"datum": "Trajectory", "legend": {"title": null}},
            "strokeDash": {"datum": "Trajectory", "legend": {"title": null}}
          }
        }
      ]
    },
    {
      "title": "Julia set for 0.00+0.00j",
      "width": 330,
      "height": 330,
      "encoding": {
        "x": {"field": "x", "type": "quantitative", "scale": {"domain": [-2.5, 2.5], "nice": false, "zero": false}, "axis": {"values": [-2, -1, 0, 1, 2], "title": null}},
        "y": {"field": "y", "type": "quantitative", "scale": {"domain": [-2.5, 2.5], "nice": false, "zero": false}, "axis": {"values": [-2, -1, 0, 1, 2], "title": null}}
      },
      "layer": [
        {
          "data": {"name": "js"},
          "mark": {"type": "point", "filled": true, "size": 256, "opacity": 1},
          "encoding": {
            "color": {"datum": "JS", "scale": {"domain": ["JS", "Threshold", "Trajectory"], "range": ["black", "blue", "green"]}, "legend": {"title": null}},
            "shape": {"datum": "JS", "scale": {"domain": ["JS", "Threshold", "Trajectory"], "range": ["M-0.25,0A0.25,0.25,0,1,1,0.25,0A0.25,0.25,0,1,1,-0.25,0Z", "M-1.7,0L1.7,0", "M-1.7,0L1.7,0"]}, "legend": {"title": null}}
          }
        },
        {
          "data": {"name": "circle"},
          "mark": {"type": "line", "strokeWidth": 1.6},
          "encoding": {
            "order": {"field": "i", "type": "quantitative"},
            "color": {"datum": "Threshold", "legend": {"title": null}},
            "strokeDash": {"datum": "Threshold", "scale": {"domain": ["JS", "Threshold", "Trajectory"], "range": [[1, 0], [7, 4], [1, 0]]}, "legend": {"title": null}}
          }
        },
        {
          "data": {"name": "trajR"},
          "mark": {"type": "line", "strokeWidth": 1.5, "clip": true, "color": "#c8c8c8"},
          "encoding": {
            "order": {"field": "i", "type": "quantitative"}
          }
        }
      ]
    }
  ],
  "resolve": {"scale": {"color": "independent", "shape": "independent", "strokeDash": "independent"}}
}
